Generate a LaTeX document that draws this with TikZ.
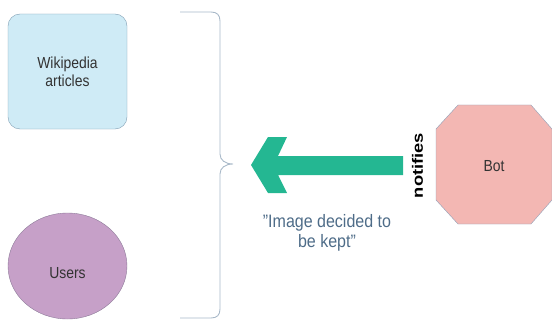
\documentclass[tikz,border=0pt]{standalone}
\usepackage{fontspec}
\setmainfont{Liberation Sans}
\definecolor{wikifill}{HTML}{CFEBF6}
\definecolor{wikiline}{HTML}{7F9DB2}
\definecolor{userfill}{HTML}{C6A0C8}
\definecolor{userline}{HTML}{8C7A98}
\definecolor{botfill}{HTML}{F3B7B3}
\definecolor{botline}{HTML}{8FA0B8}
\definecolor{bracecol}{HTML}{A8B8C8}
\definecolor{arrowcol}{HTML}{24B792}
\definecolor{captioncol}{HTML}{4E6C88}
\tikzset{
  lbl/.style={font=\fontsize{16}{18}\selectfont, text=black!80, align=center, xscale=0.87},
  captext/.style={font=\fontsize{18}{20}\selectfont, text=captioncol, align=center, xscale=0.89},
}
\begin{document}
\begin{tikzpicture}[x=1pt,y=-1pt]
\useasboundingbox (0,0) rectangle (552,329);
% Wikipedia articles
\draw[wikiline, fill=wikifill, rounded corners=12pt] (8,14) rectangle (127,129);
\node[lbl] (wiki) at (67.5,72) {Wikipedia\\articles};
% Users
\draw[userline, fill=userfill] (67.5,266) ellipse [x radius=59.5, y radius=53];
\node[lbl] (users) at (67.5,273) {Users};
% Brace
\draw[bracecol, line width=0.9pt] (180,12) -- (211,12)
  .. controls (217,12) and (220,15) .. (220,21)
  -- (220,154)
  .. controls (220,160) and (225,164) .. (233,164)
  .. controls (225,164) and (220,168) .. (220,174)
  -- (220,309)
  .. controls (220,315) and (217,318) .. (211,318)
  -- (180,318);
% Bot
\draw[botline, fill=botfill] (458,105) -- (531,105) -- (552,129) -- (552,200)
  -- (531,224) -- (458,224) -- (436,200) -- (436,129) -- cycle;
\node[lbl] (bot) at (494,166) {Bot};
% notifies
\node[rotate=90, font=\bfseries\fontsize{15}{17}\selectfont, inner sep=0pt] (notif) at (417.5,165.5) {\scalebox{1.22}[1]{notifies}};
% Arrow
\fill[arrowcol] (251,165) -- (268,137) -- (287,137) -- (278,156) -- (403,156)
  -- (403,175) -- (278,175) -- (287,193) -- (268,193) -- cycle;
% caption
\node[captext] (caption) at (327,233) {\char34 Image decided to\\be kept\char34};
\end{tikzpicture}
\end{document}
